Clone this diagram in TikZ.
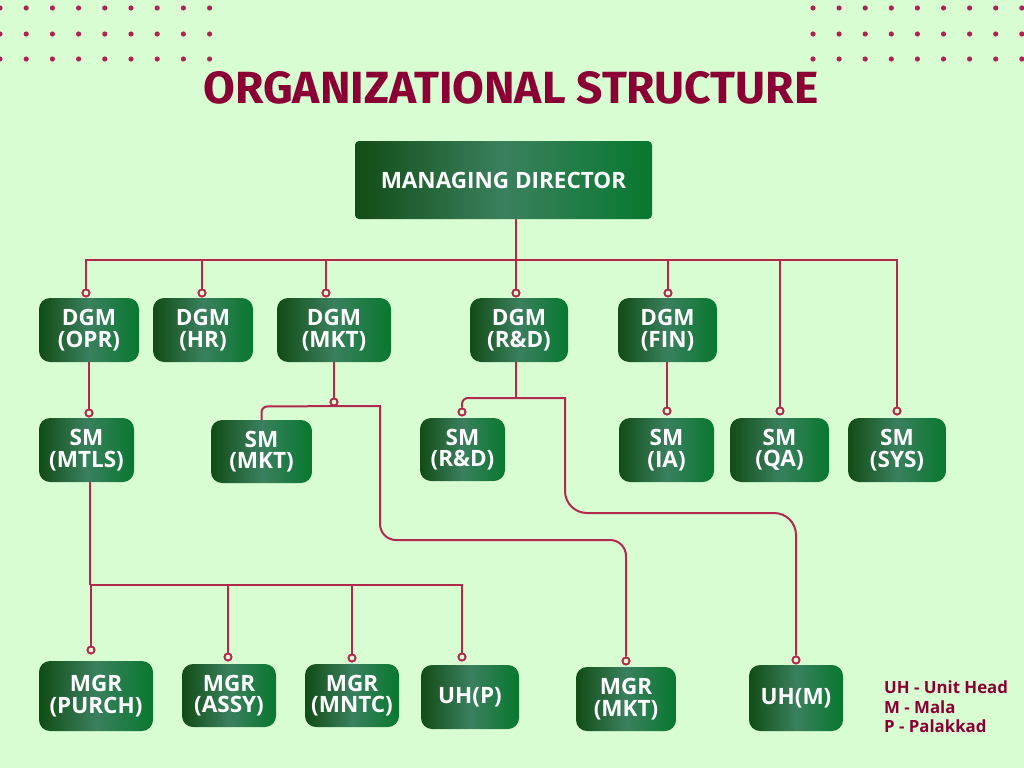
\documentclass[tikz,border=0pt]{standalone}
\usepackage{fontspec}
\usepackage{graphicx}
\setmainfont{Open Sans}
\newfontfamily\titlefont{Fira Sans}
\definecolor{bg}{HTML}{D9FDD3}
\definecolor{ln}{HTML}{B12A4E}
\definecolor{dotc}{HTML}{AE2450}
\definecolor{ttl}{HTML}{8A0035}
\definecolor{gL}{HTML}{124C16}
\definecolor{gM}{HTML}{3A805E}
\definecolor{gR}{HTML}{08782F}
\tikzset{
  box/.style={rounded corners=11pt, left color=gL, right color=gR, middle color=gM,
    text=white, align=center, inner sep=0pt, font=\fontsize{22.5}{21.5}\selectfont\bfseries},
  lnk/.style={draw=ln, line width=2pt},
  pin/.style={circle, draw=ln, fill=bg, line width=1.8pt, minimum size=7pt, inner sep=0pt},
}
\begin{document}
\begin{tikzpicture}[x=1pt,y=-1pt]
\fill[bg] (0,0) rectangle (1024,768);
\useasboundingbox (0,0) rectangle (1024,768);
% dots
\foreach \yy in {8,34,59}{
  \foreach \i in {0,...,8}{
    \fill[dotc] (26.2*\i,\yy) circle (2.6pt);
    \fill[dotc] (813+26.1*\i,\yy) circle (2.6pt);
  }
}
% title
\node[text=ttl, inner sep=0pt] (title) at (511,88) {\resizebox{615pt}{32pt}{\titlefont\fontsize{45}{45}\selectfont\bfseries ORGANIZATIONAL STRUCTURE}};
% boxes
\node[box, rounded corners=4pt, minimum width=297pt, minimum height=78pt, font=\fontsize{22.5}{22.5}\selectfont\bfseries] (md) at (503.5,180) {MANAGING DIRECTOR};
\node[box, minimum width=100pt, minimum height=64pt] (dopr) at (89,330) {DGM\\(OPR)};
\node[box, minimum width=100pt, minimum height=64pt] (dhr) at (203,330) {DGM\\(HR)};
\node[box, minimum width=114pt, minimum height=64pt] (dmkt) at (334,330) {DGM\\(MKT)};
\node[box, minimum width=98pt, minimum height=64pt] (drd) at (519,330) {DGM\\(R\&D)};
\node[box, minimum width=99pt, minimum height=64pt] (dfin) at (667.5,330) {DGM\\(FIN)};
\node[box, minimum width=95pt, minimum height=64pt] (smmtls) at (86.5,450) {SM\\(MTLS)};
\node[box, minimum width=101pt, minimum height=63pt] (smmkt) at (261.5,451.5) {SM\\(MKT)};
\node[box, minimum width=85pt, minimum height=63pt] (smrd) at (462.5,449.5) {SM\\(R\&D)};
\node[box, minimum width=95pt, minimum height=64pt] (smia) at (666.5,450) {SM\\(IA)};
\node[box, minimum width=99pt, minimum height=64pt] (smqa) at (779.5,450) {SM\\(QA)};
\node[box, minimum width=98pt, minimum height=64pt] (smsys) at (897,450) {SM\\(SYS)};
\node[box, minimum width=114pt, minimum height=70pt] (purch) at (96,696) {MGR\\(PURCH)};
\node[box, minimum width=94pt, minimum height=63pt] (assy) at (229,695.5) {MGR\\(ASSY)};
\node[box, minimum width=94pt, minimum height=63pt] (mntc) at (352,695.5) {MGR\\(MNTC)};
\node[box, minimum width=98pt, minimum height=64pt] (uhp) at (470,697) {UH(P)};
\node[box, minimum width=100pt, minimum height=64pt] (mgrmkt) at (626,699) {MGR\\(MKT)};
\node[box, minimum width=94pt, minimum height=66pt] (uhm) at (796,698) {UH(M)};
% pins
\node[pin] (pOPR) at (86,293) {};
\node[pin] (pHR) at (202,293) {};
\node[pin] (pMKT) at (326,293) {};
\node[pin] (pRD) at (516,293) {};
\node[pin] (pFIN) at (668,293) {};
\node[pin] (pQA) at (780,411) {};
\node[pin] (pSYS) at (897,411) {};
\node[pin] (pMTLS) at (89,413) {};
\node[pin] (pIA) at (667,411) {};
\node[pin] (pDMKT) at (334,402) {};
\node[pin] (pSMRD) at (462,412) {};
\node[pin] (pPURCH) at (91,650) {};
\node[pin] (pASSY) at (228,657) {};
\node[pin] (pMNTC) at (352,658) {};
\node[pin] (pUHP) at (462,657) {};
\node[pin] (pMGRMKT) at (626,661) {};
\node[pin] (pUHM) at (796,660) {};
\coordinate (bus) at (0,260);
\coordinate (mbus) at (0,585);
% connectors
\draw[lnk] (pRD.north |- md.south) -- (pRD.north);
\draw[lnk] (pOPR.north) -- (pOPR.north |- bus) -- (pSYS.north |- bus) -- (pSYS.north);
\draw[lnk] (pHR.north |- bus) -- (pHR.north);
\draw[lnk] (pMKT.north |- bus) -- (pMKT.north);
\draw[lnk] (pFIN.north |- bus) -- (pFIN.north);
\draw[lnk] (pQA.north |- bus) -- (pQA.north);
\draw[lnk] (pMTLS.north |- dopr.south) -- (pMTLS.north);
\draw[lnk] (pIA.north |- dfin.south) -- (pIA.north);
\draw[lnk] (pDMKT.north |- dmkt.south) -- (pDMKT.north);
\draw[lnk] (smmkt.north) [rounded corners=6pt]-- (smmkt.north |- pDMKT.south) [sharp corners]-- (380,406) [rounded corners=16pt]-- (380,540) -- (pMGRMKT.north |- 0,540) -- (pMGRMKT.north);
\draw[lnk] (pRD.south |- drd.south) -- (516,398);
\draw[lnk] (pSMRD.north) [rounded corners=6pt]-- (462,398) [sharp corners]-- (565,398) [rounded corners=22pt]-- (565,513) -- (pUHM.north |- 0,513) -- (pUHM.north);
\draw[lnk] (90,482) -- (90,585);
\draw[lnk] (pPURCH.north) -- (pPURCH.north |- mbus) -- (pUHP.north |- mbus) -- (pUHP.north);
\draw[lnk] (pASSY.north |- mbus) -- (pASSY.north);
\draw[lnk] (pMNTC.north |- mbus) -- (pMNTC.north);
% redraw pins on top
\foreach \p in {pOPR,pHR,pMKT,pRD,pFIN,pQA,pSYS,pMTLS,pIA,pDMKT,pSMRD,pPURCH,pASSY,pMNTC,pUHP,pMGRMKT,pUHM}{
  \draw[ln, fill=bg, line width=1.8pt] (\p) circle (3.5pt);
}
% legend
\node[anchor=west, text=ttl, align=left, inner sep=0pt, font=\fontsize{16.8}{19.5}\selectfont\bfseries] (legend) at (884,707) {UH - Unit Head\\M - Mala\\P - Palakkad};
\end{tikzpicture}
\end{document}
